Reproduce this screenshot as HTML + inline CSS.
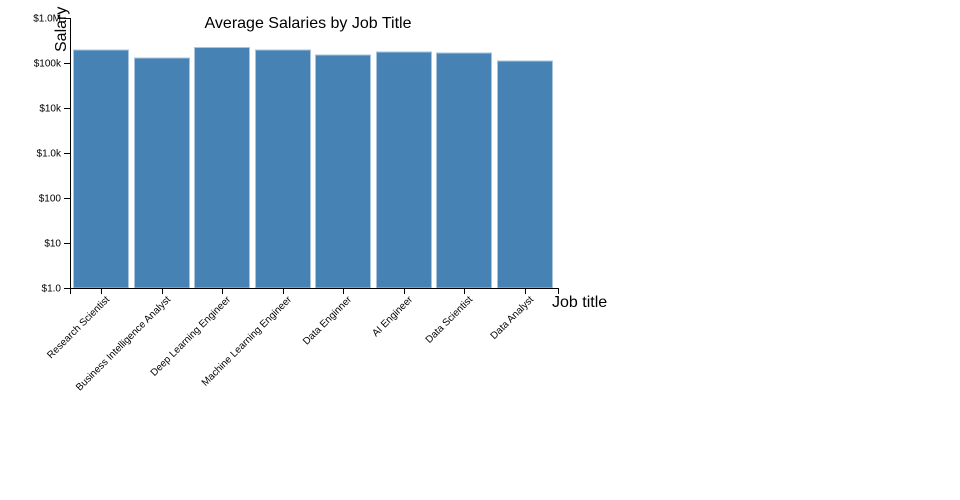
<!DOCTYPE html>
<html><head><meta charset="utf-8"><style>html,body{margin:0;background:#fff}svg{display:block;font-family:"Liberation Sans","DejaVu Sans",sans-serif}</style></head>
<body><svg width="960" height="500" viewBox="0 0 960 500">
<text x="308" y="28" font-size="16" text-anchor="middle">Average Salaries by Job Title</text>
<g fill="steelblue" stroke="#a9c4dd" stroke-width="1">
<rect x="73.5" y="50" width="55" height="238"/>
<rect x="134.5" y="58" width="55" height="230"/>
<rect x="194.5" y="47.5" width="55" height="240.5"/>
<rect x="255.5" y="50" width="55" height="238"/>
<rect x="315.5" y="55" width="55" height="233"/>
<rect x="376.5" y="52" width="55" height="236"/>
<rect x="436.5" y="53" width="55" height="235"/>
<rect x="497.5" y="61" width="55" height="227"/>
</g>
<g stroke="#000" fill="none" stroke-width="1">
<path d="M64,18.5H70.5V288.5H64"/>
<path d="M70.5,294V288.5H558.5V294"/>
<path d="M64,63.5H70.5M64,108.5H70.5M64,153.5H70.5M64,198.5H70.5M64,243.5H70.5"/>
<path d="M101.5,288.5V294M162.5,288.5V294M222.5,288.5V294M283.5,288.5V294M343.5,288.5V294M404.5,288.5V294M464.5,288.5V294M525.5,288.5V294"/>
</g>
<g font-size="10" text-anchor="end">
<text x="61" y="21.5">$1.0M</text><text x="61" y="66.5">$100k</text><text x="61" y="111.5">$10k</text><text x="61" y="156.5">$1.0k</text><text x="61" y="201.5">$100</text><text x="61" y="246.5">$10</text><text x="61" y="291.5">$1.0</text>
</g>
<g font-size="10" text-anchor="end">
<text transform="translate(110,300) rotate(-45)">Research Scientist</text>
<text transform="translate(171,300) rotate(-45)">Business Intelligence Analyst</text>
<text transform="translate(231,300) rotate(-45)">Deep Learning Engineer</text>
<text transform="translate(292,300) rotate(-45)">Machine Learning Engineer</text>
<text transform="translate(352,300) rotate(-45)">Data Enginner</text>
<text transform="translate(413,300) rotate(-45)">AI Engineer</text>
<text transform="translate(473,300) rotate(-45)">Data Scientist</text>
<text transform="translate(534,300) rotate(-45)">Data Analyst</text>
</g>
<text x="552" y="307" font-size="16">Job title</text>
<text transform="translate(66,52) rotate(-90)" font-size="16">Salary</text>
</svg></body></html>
